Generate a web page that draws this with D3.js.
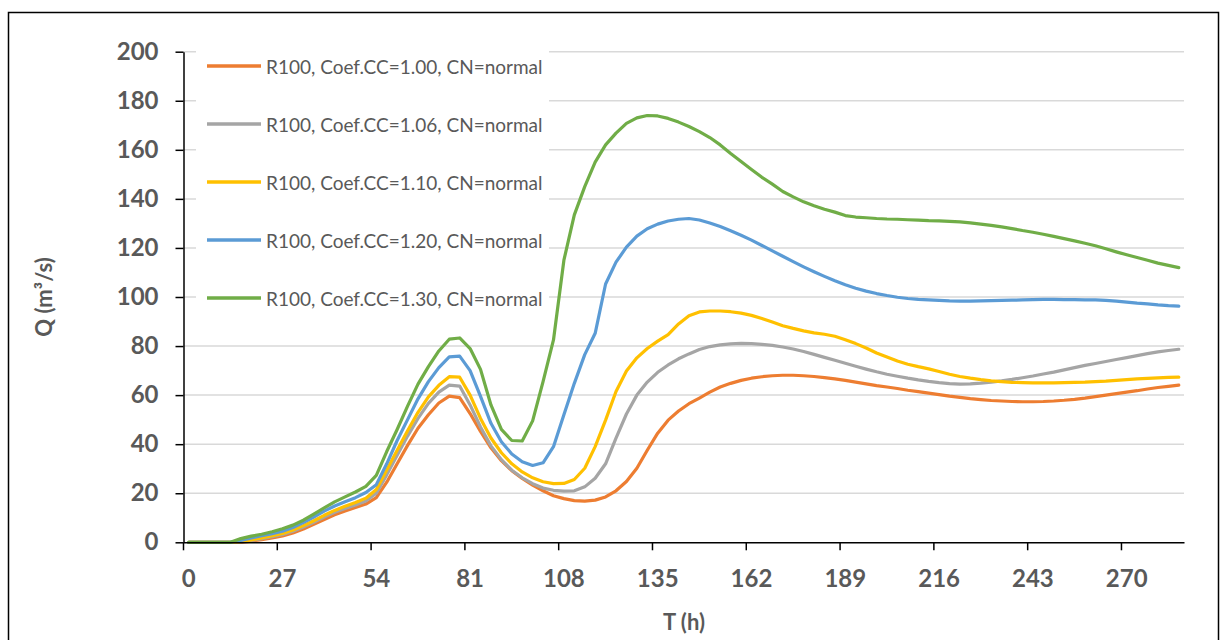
<!DOCTYPE html>
<html><head><meta charset="utf-8">
<script src="https://cdn.jsdelivr.net/npm/d3@7"></script>
<style>body{margin:0;background:#fff}svg{display:block}</style>
</head><body><svg id="c" width="1227" height="640"></svg>
<script>
// ---- data ----
const hours = [0,3,6,9,12,15,18,21,24,27,30,33,36,39,42,45,48,51,54,57,60,63,66,69,72,75,78,81,84,87,90,93,96,99,102,105,108,111,114,117,120,123,126,129,132,135,138,141,144,147,150,153,156,159,162,165,168,171,174,177,180,183,186,189,192,195,198,201,204,207,210,213,216,219,222,225,228,231,234,237,240,243,246,249,252,255,258,261,264,267,270,273,276,279,282,285];
const xTickLabels = [0,27,54,81,108,135,162,189,216,243,270];
const yTickLabels = [0,20,40,60,80,100,120,140,160,180,200];
const seriesNames = ["R100, Coef.CC=1.00, CN=normal","R100, Coef.CC=1.06, CN=normal","R100, Coef.CC=1.10, CN=normal","R100, Coef.CC=1.20, CN=normal","R100, Coef.CC=1.30, CN=normal"];
const q100 = [0,0,0,0,0, 0,0.5,1.1,1.8,2.6, 3.8,5.4,7.3,9.3,11.2, 12.8,14.2,15.6,18.2,24.5, 32,39.5,46.5,52,56.8, 59.6,59,52.5,45.2,38.5, 33.3,29.2,26,23.3,21, 19,17.8,17,16.8,17.2, 18.5,21,24.8,30.2,37.5, 44.5,49.8,53.5,56.5,58.8, 61.2,63.3,64.8,66,66.9, 67.5,67.9,68.1,68.1,67.9, 67.6,67.1,66.6,66,65.3, 64.6,63.9,63.3,62.7,62, 61.4,60.8,60.2,59.6,59.1, 58.6,58.2,57.8,57.6,57.4, 57.3,57.3,57.4,57.6,57.9, 58.3,58.8,59.4,60,60.6, 61.2,61.8,62.5,63.1,63.6, 64.1];
const q106 = [0,0,0,0,0, 0.2,0.8,1.5,2.3,3.2, 4.5,6.2,8.2,10.3,12.2, 13.8,15.2,16.8,20,27.5, 35.5,43.3,50.5,56.6,61.2, 64.1,63.7,56,47,39.3, 33.7,29.4,26.3,23.9,22.1, 21.2,20.9,21,22.6,26.1, 32,42.5,52.3,60,65.3, 69.3,72.3,74.8,76.8,78.6, 79.8,80.5,80.9,81.1,81, 80.7,80.3,79.6,78.8,77.8, 76.6,75.4,74.2,73,71.8, 70.6,69.5,68.5,67.7,66.9, 66.2,65.6,65.1,64.7,64.5, 64.6,64.9,65.3,65.8,66.4, 67.1,67.8,68.6,69.4,70.3, 71.2,72.1,72.9,73.7,74.5, 75.3,76.1,76.9,77.6,78.2, 78.7];
const q110 = [0,0,0,0,0, 0.3,1,1.8,2.7,3.6, 5,6.8,8.8,11,13, 14.7,16.2,18,21.5,29.5, 37.5,45.5,53,59.3,64, 67.5,67.3,60,50.5,42.5, 36.5,32,28.7,26.3,24.7, 23.9,24,25.6,30.2,39, 49.8,61.5,69.8,75.2,79, 82,84.7,89,92.4,93.9, 94.3,94.3,94,93.4,92.5, 91.2,89.8,88.3,87.2,86.2, 85.4,84.8,84,82.6,81, 79.2,77.2,75.5,73.9,72.6, 71.6,70.7,69.6,68.5,67.6, 66.9,66.3,65.8,65.5,65.2, 65.1,65,65,65,65.1, 65.2,65.3,65.5,65.7,66, 66.3,66.6,66.8,67,67.2, 67.3];
const q120 = [0,0,0,0,0, 0.8,1.8,2.7,3.5,4.5, 6,8,10.3,12.7,14.8, 16.5,18.2,20.3,23.5,32, 41.5,50,58.5,65.5,71.2, 75.6,75.9,70,59.5,48.5, 41,36,32.8,31.3,32.4, 39,52,64.8,76.5,85.2, 105.3,114.2,120.3,124.8,127.8, 129.7,131,131.7,132,131.4, 130.2,128.7,127,125.2,123.2, 121,118.8,116.6,114.4,112.3, 110.3,108.4,106.6,105,103.6, 102.4,101.4,100.6,99.9,99.4, 99,98.8,98.6,98.4,98.3, 98.3,98.4,98.5,98.6,98.7, 98.8,98.9,99,99,98.9, 98.9,98.8,98.8,98.6,98.3, 97.9,97.5,97.2,96.8,96.5, 96.3];
const q130 = [0,0,0,0,0, 1.5,2.5,3.3,4.3,5.5, 7,9,11.5,14,16.5, 18.5,20.5,22.8,27.3,37, 46,55.5,64.5,71.6,78, 82.8,83.3,79,70.5,56, 46,41.5,41.3,49.5,65.5, 82.5,115,133.5,145,155, 162,166.8,170.8,173,174, 173.8,172.8,171.3,169.5,167.4, 165,162,158.5,155.2,152, 148.8,146,143,140.8,138.8, 137.2,135.8,134.6,133.2,132.6, 132.3,132,131.8,131.7,131.5, 131.3,131.1,131,130.8,130.6, 130.2,129.7,129.2,128.6,127.9, 127.1,126.4,125.6,124.7,123.8, 122.9,121.9,120.9,119.7,118.4, 117.2,116.1,115,113.8,112.9, 112];
const seriesValues = [q100, q106, q110, q120, q130];
const colors = ["#ED7D31","#A5A5A5","#FFC000","#5B9BD5","#70AD47"];

// ---- layout ----
const FONT = "Lato, 'Open Sans', sans-serif";
const TXT = "#595959";
const svg = d3.select("#c");
svg.append("rect").attr("width",1227).attr("height",640).attr("fill","#fff");
svg.append("rect").attr("x",8.5).attr("y",12.5).attr("width",1210).attr("height",700)
  .attr("fill","none").attr("stroke","#000").attr("stroke-width",1.5);

const x = d3.scaleBand().domain(hours).range([183.5,1184]).paddingInner(0).paddingOuter(0);
const bw = x.bandwidth();
const y = d3.scaleLinear().domain([0,200]).range([542.3,51.7]);

// gridlines
svg.append("g").selectAll("line").data(yTickLabels.filter(v=>v>0)).join("line")
  .attr("x1",183.5).attr("x2",1184).attr("y1",d=>y(d)).attr("y2",d=>y(d))
  .attr("stroke","#D9D9D9").attr("stroke-width",1.5);

// series
const line = d3.line().x((d,i)=>x(hours[i])+bw/2).y(d=>y(d));
svg.append("g").selectAll("path").data(seriesValues).join("path")
  .attr("d",d=>line(d)).attr("fill","none").attr("stroke",(d,i)=>colors[i])
  .attr("stroke-width",3.2).attr("stroke-linejoin","round").attr("stroke-linecap","round");

// axes
const xa = svg.append("g").attr("transform",`translate(0,${y(0)})`)
  .call(d3.axisBottom(x).tickValues(xTickLabels).tickSize(8).tickSizeOuter(0));
xa.select(".domain").attr("stroke","#000").attr("stroke-width",1.5);
xa.selectAll(".tick line").attr("x1",-bw/2).attr("x2",-bw/2).attr("stroke","#000").attr("stroke-width",1.5);
xa.selectAll(".tick text").attr("y",36).attr("dy","0.35em")
  .attr("fill",TXT).style("font-family",FONT).style("font-size","24px").style("font-weight","bold");

const ya = svg.append("g").attr("transform",`translate(183.5,0)`)
  .call(d3.axisLeft(y).tickValues(yTickLabels).tickSize(8).tickSizeOuter(0).tickPadding(17));
ya.select(".domain").attr("stroke","#000").attr("stroke-width",1.5);
ya.selectAll(".tick line").attr("stroke","#000").attr("stroke-width",1.5);
ya.selectAll(".tick text").attr("fill",TXT).style("font-family",FONT).style("font-size","24px").style("font-weight","bold");

// titles
svg.append("text").attr("transform","translate(43,297) rotate(-90)").attr("text-anchor","middle")
  .attr("dominant-baseline","central").attr("fill",TXT).style("font-family",FONT)
  .style("font-size","22px").style("font-weight","bold").text("Q (m³/s)");
svg.append("text").attr("x",684).attr("y",621).attr("text-anchor","middle")
  .attr("dominant-baseline","central").attr("fill",TXT).style("font-family",FONT)
  .style("font-size","22px").style("font-weight","bold").text("T (h)");

// legend
const lg = svg.append("g");
lg.append("rect").attr("x",196).attr("y",40).attr("width",353).attr("height",275).attr("fill","#fff");
const items = lg.selectAll("g").data(seriesNames).join("g")
  .attr("transform",(d,i)=>`translate(0,${66+i*58})`);
items.append("line").attr("x1",207).attr("x2",261).attr("stroke",(d,i)=>colors[i]).attr("stroke-width",3.5);
items.append("text").attr("x",266).attr("dominant-baseline","central").attr("fill",TXT)
  .style("font-family",FONT).style("font-size","19px").text(d=>d);
</script></body></html>
